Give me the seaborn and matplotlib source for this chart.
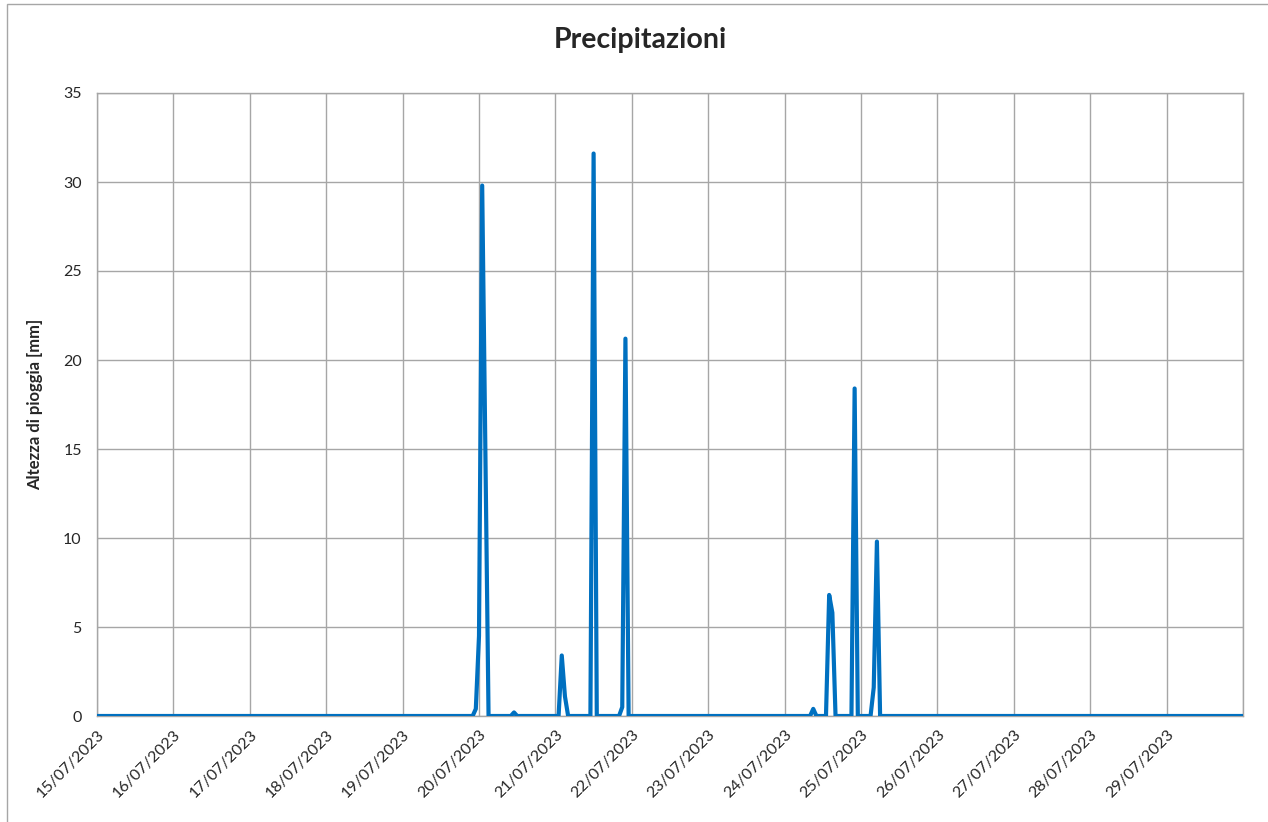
import matplotlib
matplotlib.use('Agg')
import matplotlib.pyplot as plt
import matplotlib.dates as mdates
import seaborn as sns
import pandas as pd

sns.set_style('white')
plt.rcParams['font.family'] = ['Lato', 'DejaVu Sans']

# periodo di osservazione (dati orari)
start = '2023-07-15 00:00'
end = '2023-07-30 00:00'

# ore con pioggia e relativa altezza [mm]; tutte le altre ore sono a 0
rain_times = ['2023-07-19 23:00', '2023-07-20 00:00', '2023-07-20 01:00', '2023-07-20 02:00',
              '2023-07-20 11:00', '2023-07-21 02:00', '2023-07-21 03:00', '2023-07-21 12:00',
              '2023-07-21 21:00', '2023-07-21 22:00', '2023-07-24 09:00', '2023-07-24 14:00',
              '2023-07-24 15:00', '2023-07-24 22:00', '2023-07-25 04:00', '2023-07-25 05:00']
rain_mm = [0.4, 4.5, 29.8, 15.0,
           0.2, 3.4, 1.1, 31.6,
           0.5, 21.2, 0.4, 6.8,
           5.8, 18.4, 1.6, 9.8]

ore = pd.date_range(start, end, freq='h')
serie = pd.Series(0.0, index=ore)
serie[pd.to_datetime(rain_times)] = rain_mm
df = pd.DataFrame({'data': ore, 'pioggia': serie.values})

fig = plt.figure(figsize=(12.68, 8.22), dpi=100)
ax = fig.add_axes([97 / 1268, 1 - 716 / 822, (1243 - 97) / 1268, (716 - 93) / 822])

grid_c = '#a6a6a6'
sns.lineplot(data=df, x='data', y='pioggia', ax=ax, color='#0070C0', lw=3.0, zorder=3)

ax.set_xlim(pd.Timestamp(start), pd.Timestamp(end))
ax.set_ylim(0, 35)
ax.set_yticks(range(0, 36, 5))
giorni = pd.date_range('2023-07-15', '2023-07-29', freq='D')
ax.set_xticks(giorni)
ax.xaxis.set_major_formatter(mdates.DateFormatter('%d/%m/%Y'))
ax.set_xticks(pd.date_range('2023-07-15', '2023-07-30', freq='D'), minor=True)
ax.grid(True, which='both', color=grid_c, lw=1.0)
for s in ax.spines.values():
    s.set_color(grid_c)
    s.set_linewidth(1.0)
ax.tick_params(axis='both', which='both', length=5, color=grid_c, labelsize=11.5, direction='out')
ax.tick_params(axis='y', pad=6)
plt.setp(ax.get_xticklabels(), rotation=45, ha='right', rotation_mode='anchor')
ax.set_xlabel('')
ax.set_ylabel('Altezza di pioggia [mm]', fontsize=12, fontweight='bold', labelpad=14)

fig.text(0.505, 0.951, 'Precipitazioni', ha='center', va='center', fontsize=20.5, fontweight='bold')

# cornice del grafico
fig.add_artist(plt.Rectangle((7 / 1268, -0.1), 1.2, 1.1 - 4 / 822, transform=fig.transFigure,
                             fill=False, edgecolor=grid_c, lw=1.0))

fig.savefig('out.png', dpi=100)
